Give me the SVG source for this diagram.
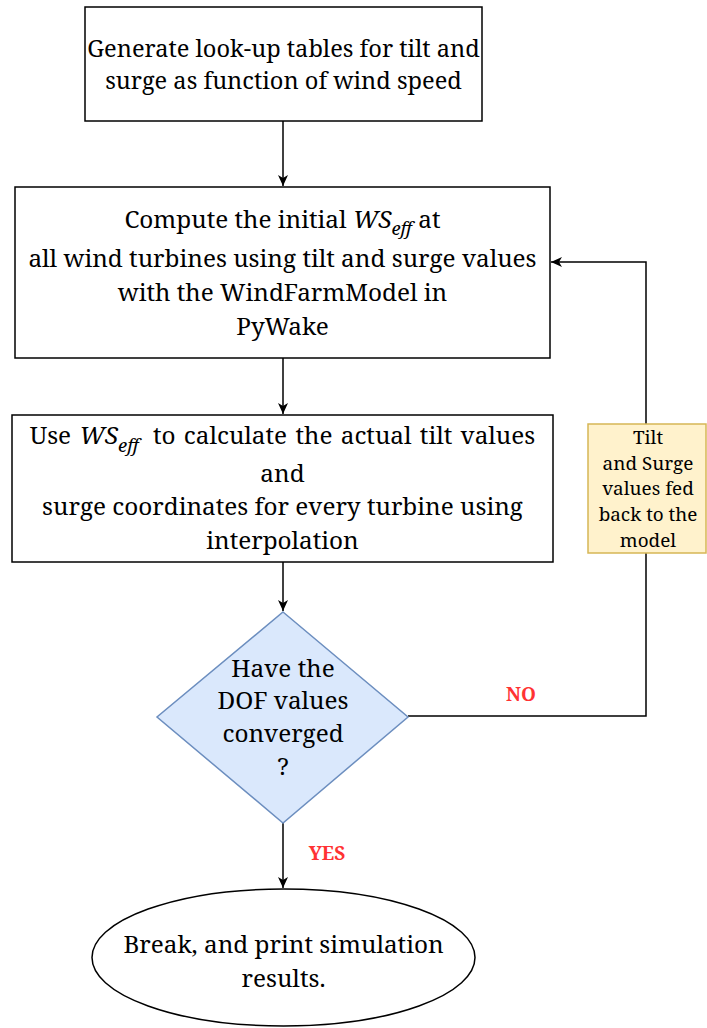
<svg xmlns="http://www.w3.org/2000/svg" width="707" height="1028" viewBox="0 0 707 1028">
<style>
.box{fill:#ffffff;stroke:#000000;stroke-width:1.5}
.t{font-family:'Noto Serif','Liberation Serif','DejaVu Serif',serif;font-size:24.3px;fill:#000000;text-anchor:middle}
.g{font-size:23.6px}
.small{font-size:18.9px}
.sub{font-style:italic;font-size:18.5px}
.it{font-style:italic}
.lbl{font-family:'Noto Serif','Liberation Serif','DejaVu Serif',serif;font-size:19px;font-weight:bold;fill:#ff3333;text-anchor:middle}
.edge{fill:none;stroke:#000000;stroke-width:1.5}
</style>
<defs>
<marker id="arr" markerWidth="12" markerHeight="10" refX="11" refY="5" orient="auto" markerUnits="userSpaceOnUse">
<path d="M0,0 L11,5 L0,10 L3,5 Z" fill="#000000"/>
</marker>
</defs>
<g id="connectors">
<path class="edge" d="M283,121 L283,186" marker-end="url(#arr)"/>
<path class="edge" d="M283,358 L283,414" marker-end="url(#arr)"/>
<path class="edge" d="M283,562 L283,611" marker-end="url(#arr)"/>
<path class="edge" d="M283,823 L283,888" marker-end="url(#arr)"/>
<path class="edge" d="M408,716 L646,716 L646,262 L551,262" marker-end="url(#arr)"/>
<text class="lbl" x="521" y="701">NO</text>
<text class="lbl" x="327" y="860">YES</text>
</g>
<g id="node-generate">
<rect class="box" x="85" y="7" width="397" height="114"/>
<text class="t g" x="283.5" y="57">Generate look-up tables for tilt and</text>
<text class="t g" x="283.5" y="89">surge as function of wind speed</text>
</g>
<g id="node-compute">
<rect class="box" x="15" y="187" width="535" height="171"/>
<text class="t" x="282.5" y="228">Compute the initial <tspan class="it">WS</tspan><tspan class="sub" dy="7">eff</tspan><tspan dy="-7"> at</tspan></text>
<text class="t" x="282.5" y="267">all wind turbines using tilt and surge values</text>
<text class="t" x="282.5" y="301">with the WindFarmModel in</text>
<text class="t" x="282.5" y="335">PyWake</text>
</g>
<g id="node-use">
<rect class="box" x="12" y="415" width="541" height="147"/>
<text class="t" x="282.5" y="444" word-spacing="2">Use <tspan class="it">WS</tspan><tspan class="sub" dy="8">eff</tspan><tspan dy="-8" dx="6"> to calculate the actual tilt values</tspan></text>
<text class="t" x="282.5" y="482">and</text>
<text class="t" x="282.5" y="515">surge coordinates for every turbine using</text>
<text class="t" x="282.5" y="549">interpolation</text>
</g>
<g id="node-feedback">
<rect x="588" y="424" width="118" height="129" fill="#fff2cc" stroke="#d6b656" stroke-width="1.5"/>
<text class="t small" x="648" y="444">Tilt</text>
<text class="t small" x="648" y="470">and Surge</text>
<text class="t small" x="648" y="495">values fed</text>
<text class="t small" x="648" y="521">back to the</text>
<text class="t small" x="648" y="547">model</text>
</g>
<g id="node-decision">
<path d="M283,612 L408,717 L283,823 L157,717 Z" fill="#dae8fc" stroke="#6c8ebf" stroke-width="1.5"/>
<text class="t" x="283" y="677">Have the</text>
<text class="t" x="283" y="709">DOF values</text>
<text class="t" x="283" y="742">converged</text>
<text class="t" x="283" y="775">?</text>
</g>
<g id="node-break">
<ellipse class="box" cx="283.5" cy="957.5" rx="191.5" ry="68.5"/>
<text class="t" x="283.5" y="953">Break, and print simulation</text>
<text class="t" x="283.5" y="987">results.</text>
</g>
</svg>
